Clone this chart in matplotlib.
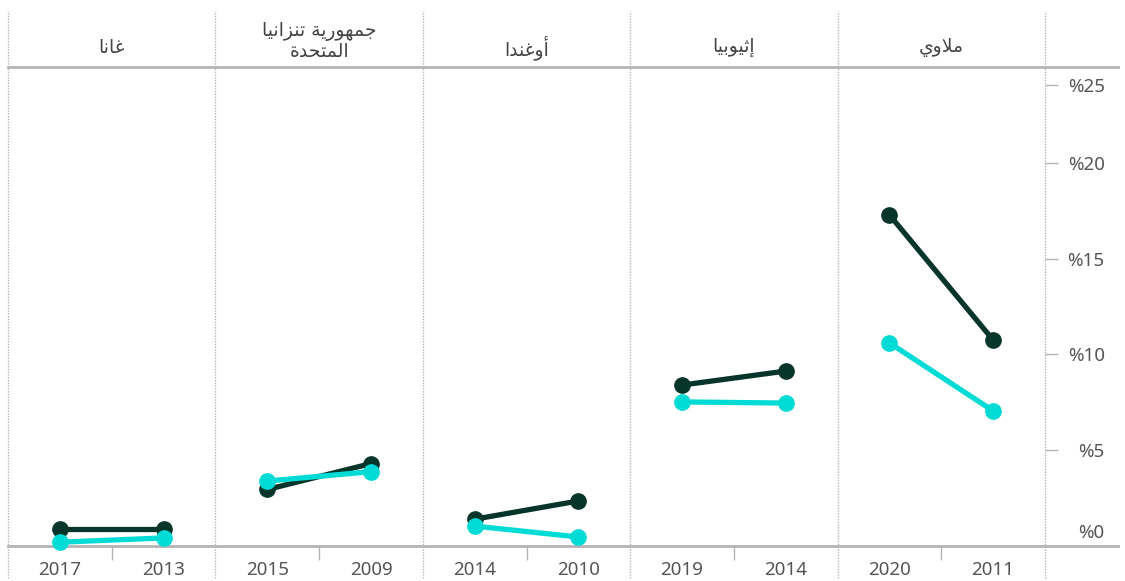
import matplotlib
matplotlib.use('Agg')
import matplotlib.pyplot as plt

# panels from left to right (the original reads right-to-left)
countries = ['غانا', 'جمهورية تنزانيا\nالمتحدة', 'أوغندا', 'إثيوبيا', 'ملاوي']
years_left = ['2017', '2015', '2014', '2019', '2020']
years_right = ['2013', '2009', '2010', '2014', '2011']
dark_left = [0.9, 2.95, 1.4, 8.4, 17.28]
dark_right = [0.9, 4.3, 2.35, 9.13, 10.75]
cyan_left = [0.2, 3.39, 1.04, 7.52, 10.6]
cyan_right = [0.42, 3.88, 0.47, 7.46, 7.05]
yticks = [5, 10, 15, 20]

DARK = '#07352a'
CYAN = '#00dbd5'
GREY = '#b4b4b4'
TXT = '#555555'

# very small arabic shaper: contextual presentation forms + visual order
FORMS = {
    'ا': ('\uFE8D', '\uFE8E', None, None),
    'أ': ('\uFE83', '\uFE84', None, None),
    'إ': ('\uFE87', '\uFE88', None, None),
    'ب': ('\uFE8F', '\uFE90', '\uFE91', '\uFE92'),
    'ة': ('\uFE93', '\uFE94', None, None),
    'ت': ('\uFE95', '\uFE96', '\uFE97', '\uFE98'),
    'ث': ('\uFE99', '\uFE9A', '\uFE9B', '\uFE9C'),
    'ج': ('\uFE9D', '\uFE9E', '\uFE9F', '\uFEA0'),
    'ح': ('\uFEA1', '\uFEA2', '\uFEA3', '\uFEA4'),
    'د': ('\uFEA9', '\uFEAA', None, None),
    'ر': ('\uFEAD', '\uFEAE', None, None),
    'ز': ('\uFEAF', '\uFEB0', None, None),
    'غ': ('\uFECD', '\uFECE', '\uFECF', '\uFED0'),
    'ل': ('\uFEDD', '\uFEDE', '\uFEDF', '\uFEE0'),
    'م': ('\uFEE1', '\uFEE2', '\uFEE3', '\uFEE4'),
    'ن': ('\uFEE5', '\uFEE6', '\uFEE7', '\uFEE8'),
    'ه': ('\uFEE9', '\uFEEA', '\uFEEB', '\uFEEC'),
    'و': ('\uFEED', '\uFEEE', None, None),
    'ي': ('\uFEF1', '\uFEF2', '\uFEF3', '\uFEF4'),
}
LAMALEF = {'ا': ('\uFEFB', '\uFEFC'), 'أ': ('\uFEF7', '\uFEF8'), 'إ': ('\uFEF9', '\uFEFA')}


def shape_line(s):
    seq = []
    i = 0
    while i < len(s):
        if s[i] == 'ل' and i + 1 < len(s) and s[i + 1] in LAMALEF:
            seq.append(('LA', s[i + 1]))
            i += 2
        else:
            seq.append((s[i], None))
            i += 1
    out = []
    for k, (c, a) in enumerate(seq):
        prev = seq[k - 1][0] if k > 0 else None
        jp = prev in FORMS and FORMS[prev][2] is not None
        if c == 'LA':
            out.append(LAMALEF[a][1 if jp else 0])
            continue
        if c not in FORMS:
            out.append(c)
            continue
        nxt = seq[k + 1][0] if k + 1 < len(seq) else None
        jn = FORMS[c][2] is not None and (nxt == 'LA' or nxt in FORMS)
        iso, fin, ini, med = FORMS[c]
        if jp and jn:
            out.append(med)
        elif jp:
            out.append(fin)
        elif jn:
            out.append(ini)
        else:
            out.append(iso)
    return ''.join(reversed(out))


plt.rcParams['font.family'] = ['Noto Sans', 'DejaVu Sans']

fig = plt.figure(figsize=(11.25, 5.81), dpi=100)
ax = fig.add_axes([8 / 1125, 35 / 581, 1037 / 1125, 479 / 581])
ax.set_xlim(0, 5)
ax.set_ylim(0, 25)
for s in ax.spines.values():
    s.set_visible(False)

n = len(countries)
xl = [i + 0.25 for i in range(n)]
xr = [i + 0.75 for i in range(n)]

for i in range(n):
    ax.plot([xl[i], xr[i]], [dark_left[i], dark_right[i]], color=DARK, lw=3.8,
            marker='o', ms=11, solid_capstyle='round', zorder=3, clip_on=False)
for i in range(n):
    ax.plot([xl[i], xr[i]], [cyan_left[i], cyan_right[i]], color=CYAN, lw=3.8,
            marker='o', ms=11, solid_capstyle='round', zorder=4, clip_on=False)

# panel separators
for i in range(n + 1):
    ax.plot([i, i], [-1.65, 27.9], color=GREY, lw=1, ls=(0, (1, 1)), clip_on=False, zorder=1)

# header line and baseline
ax.plot([0, 5.35], [25, 25], color=GREY, lw=2, clip_on=False, zorder=2)
ax.plot([0, 5.35], [0, 0], color=GREY, lw=2, clip_on=False, zorder=2)

# country headers (one text per line, 20 px apart)
for i, c in enumerate(countries):
    lines = c.split('\n')
    if len(lines) == 1:
        ys = [26.0]
    else:
        ys = [26.85, 25.8]
    for line, y in zip(lines, ys):
        ax.text(i + 0.5, y, shape_line(line), ha='center', va='center', fontsize=13.5,
                color='#444444', family=['DejaVu Sans'], clip_on=False)

# x axis: ticks between the years, year labels under the points
ax.set_xticks([i + 0.5 for i in range(n)])
ax.set_xticklabels([''] * n)
ax.set_xticks(xl + xr, minor=True)
ax.set_xticklabels(years_left + years_right, minor=True)
ax.tick_params(axis='x', which='major', length=10, width=1, color=GREY, direction='out')
ax.tick_params(axis='x', which='minor', length=0, pad=11, labelsize=13.5, labelcolor=TXT)

# y axis on the right
ax.yaxis.tick_right()
ax.set_yticks(yticks + [24.07])
ax.set_yticklabels(['%' + str(v) for v in yticks] + ['%25'])
ax.set_yticks([0.8], minor=True)
ax.set_yticklabels(['%0'], minor=True)
ax.tick_params(axis='y', which='major', length=9, width=1, color=GREY, pad=34,
               labelsize=13.5, labelcolor=TXT)
ax.tick_params(axis='y', which='minor', length=0, pad=43, labelsize=13.5, labelcolor=TXT)
for t in ax.yaxis.get_majorticklabels() + ax.yaxis.get_minorticklabels():
    t.set_ha('right')

fig.savefig('out.png', dpi=100)
